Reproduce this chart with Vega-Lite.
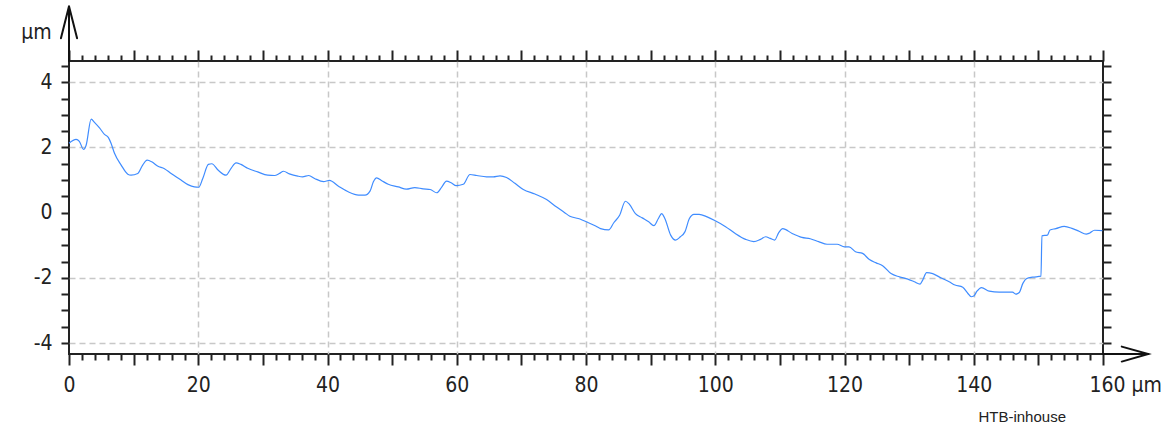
{
  "$schema": "https://vega.github.io/schema/vega-lite/v6.json",
  "width": 1034,
  "height": 293,
  "autosize": {"type": "none"},
  "padding": {"left": 69, "top": 61, "right": 70, "bottom": 72},
  "background": "white",
  "config": {
    "view": {"stroke": "#222222", "strokeWidth": 2},
    "font": "Liberation Sans Narrow, DejaVu Sans Condensed, sans-serif"
  },
  "datasets": {
    "profile": [
      {"x": 0, "y": 2.13}, {"x": 1.1, "y": 2.25}, {"x": 1.6, "y": 2.19}, {"x": 2.25, "y": 1.94}, {"x": 2.65, "y": 2.07},
      {"x": 3.43, "y": 2.87}, {"x": 3.94, "y": 2.77}, {"x": 4.72, "y": 2.6}, {"x": 5.49, "y": 2.4}, {"x": 6.1, "y": 2.3},
      {"x": 6.52, "y": 2.12}, {"x": 7.04, "y": 1.82}, {"x": 8.07, "y": 1.46}, {"x": 9.1, "y": 1.18}, {"x": 9.6, "y": 1.15},
      {"x": 10.64, "y": 1.2}, {"x": 11.4, "y": 1.46}, {"x": 12.09, "y": 1.61}, {"x": 12.8, "y": 1.56}, {"x": 13.7, "y": 1.43},
      {"x": 14.77, "y": 1.35}, {"x": 15.8, "y": 1.2}, {"x": 17.1, "y": 1.03}, {"x": 18.4, "y": 0.86}, {"x": 19.4, "y": 0.79},
      {"x": 20.08, "y": 0.78}, {"x": 20.7, "y": 1.05}, {"x": 21.57, "y": 1.48}, {"x": 22.1, "y": 1.5}, {"x": 23.1, "y": 1.3},
      {"x": 24.3, "y": 1.15}, {"x": 25.08, "y": 1.36}, {"x": 25.85, "y": 1.53}, {"x": 26.6, "y": 1.48}, {"x": 27.65, "y": 1.36},
      {"x": 29.2, "y": 1.25}, {"x": 30.75, "y": 1.15}, {"x": 31.8, "y": 1.14}, {"x": 32.55, "y": 1.2}, {"x": 33.2, "y": 1.27},
      {"x": 34.1, "y": 1.19}, {"x": 35.4, "y": 1.12}, {"x": 36.15, "y": 1.1}, {"x": 37.1, "y": 1.14}, {"x": 38.0, "y": 1.05},
      {"x": 39.4, "y": 0.95}, {"x": 40.3, "y": 0.99}, {"x": 41.7, "y": 0.81}, {"x": 43.2, "y": 0.64}, {"x": 44.8, "y": 0.54},
      {"x": 45.8, "y": 0.54}, {"x": 46.6, "y": 0.67}, {"x": 47.1, "y": 0.95}, {"x": 47.6, "y": 1.07}, {"x": 48.4, "y": 0.98},
      {"x": 49.4, "y": 0.87}, {"x": 50.96, "y": 0.79}, {"x": 52.2, "y": 0.72}, {"x": 53.5, "y": 0.77}, {"x": 54.8, "y": 0.73},
      {"x": 55.9, "y": 0.71}, {"x": 56.9, "y": 0.61}, {"x": 57.7, "y": 0.79}, {"x": 58.4, "y": 0.97}, {"x": 59.2, "y": 0.91},
      {"x": 59.9, "y": 0.83}, {"x": 61.0, "y": 0.87}, {"x": 62.05, "y": 1.17}, {"x": 63.1, "y": 1.14}, {"x": 64.6, "y": 1.1},
      {"x": 65.65, "y": 1.1}, {"x": 66.7, "y": 1.13}, {"x": 67.7, "y": 1.08}, {"x": 69.0, "y": 0.9}, {"x": 70.3, "y": 0.71},
      {"x": 72.1, "y": 0.57}, {"x": 73.9, "y": 0.4}, {"x": 75.4, "y": 0.18}, {"x": 76.7, "y": 0.0}, {"x": 77.5, "y": -0.11},
      {"x": 78.8, "y": -0.18}, {"x": 80.3, "y": -0.3}, {"x": 81.5, "y": -0.41}, {"x": 82.25, "y": -0.49}, {"x": 83.5, "y": -0.53},
      {"x": 84.3, "y": -0.31}, {"x": 85.2, "y": -0.08}, {"x": 86.1, "y": 0.35}, {"x": 86.7, "y": 0.26}, {"x": 87.65, "y": -0.03},
      {"x": 88.7, "y": -0.16}, {"x": 89.7, "y": -0.28}, {"x": 90.5, "y": -0.4}, {"x": 91.2, "y": -0.18}, {"x": 91.7, "y": -0.03},
      {"x": 92.2, "y": -0.18}, {"x": 93.1, "y": -0.69}, {"x": 93.85, "y": -0.84}, {"x": 94.6, "y": -0.74}, {"x": 95.3, "y": -0.59},
      {"x": 96.0, "y": -0.18}, {"x": 96.7, "y": -0.05}, {"x": 97.5, "y": -0.05}, {"x": 98.75, "y": -0.13}, {"x": 100.0, "y": -0.25},
      {"x": 101.6, "y": -0.43}, {"x": 103.1, "y": -0.64}, {"x": 104.7, "y": -0.82}, {"x": 105.97, "y": -0.89}, {"x": 107.0, "y": -0.82},
      {"x": 107.8, "y": -0.74}, {"x": 108.5, "y": -0.79}, {"x": 109.2, "y": -0.84}, {"x": 109.8, "y": -0.62}, {"x": 110.45, "y": -0.49},
      {"x": 111.9, "y": -0.64}, {"x": 113.4, "y": -0.76}, {"x": 114.7, "y": -0.8}, {"x": 116.0, "y": -0.89}, {"x": 117.3, "y": -0.97},
      {"x": 118.85, "y": -0.97}, {"x": 120.0, "y": -1.05}, {"x": 120.7, "y": -1.05}, {"x": 121.7, "y": -1.2}, {"x": 122.8, "y": -1.25},
      {"x": 123.85, "y": -1.44}, {"x": 124.9, "y": -1.54}, {"x": 125.9, "y": -1.63}, {"x": 127.2, "y": -1.87}, {"x": 128.5, "y": -1.97},
      {"x": 129.8, "y": -2.04}, {"x": 130.8, "y": -2.12}, {"x": 131.7, "y": -2.19}, {"x": 132.1, "y": -2.07}, {"x": 132.7, "y": -1.84},
      {"x": 133.65, "y": -1.87}, {"x": 134.9, "y": -2.0}, {"x": 136.2, "y": -2.12}, {"x": 137.1, "y": -2.22}, {"x": 138.3, "y": -2.29},
      {"x": 139.1, "y": -2.48}, {"x": 139.6, "y": -2.58}, {"x": 140.0, "y": -2.56}, {"x": 140.5, "y": -2.41}, {"x": 141.2, "y": -2.3},
      {"x": 142.4, "y": -2.41}, {"x": 143.95, "y": -2.44}, {"x": 146.0, "y": -2.44}, {"x": 146.5, "y": -2.5}, {"x": 147.05, "y": -2.45},
      {"x": 147.6, "y": -2.17}, {"x": 148.2, "y": -2.02}, {"x": 149.1, "y": -1.98}, {"x": 150.4, "y": -1.95}, {"x": 150.55, "y": -0.71},
      {"x": 151.4, "y": -0.69}, {"x": 151.8, "y": -0.53}, {"x": 152.7, "y": -0.49}, {"x": 154.0, "y": -0.42}, {"x": 155.3, "y": -0.49},
      {"x": 156.3, "y": -0.57}, {"x": 157.4, "y": -0.66}, {"x": 157.9, "y": -0.63}, {"x": 158.7, "y": -0.54}, {"x": 159.9, "y": -0.55}
    ],
    "arrows": [
      {"g": "yshaft", "o": 1, "x": 0, "y": 4.65},
      {"g": "yshaft", "o": 2, "x": 0, "y": 6.33},
      {"g": "yhead", "o": 1, "x": -1.25, "y": 5.35},
      {"g": "yhead", "o": 2, "x": 0, "y": 6.33},
      {"g": "yhead", "o": 3, "x": 1.25, "y": 5.35},
      {"g": "xshaft", "o": 1, "x": 160, "y": -4.337},
      {"g": "xshaft", "o": 2, "x": 167, "y": -4.337},
      {"g": "xhead", "o": 1, "x": 162.9, "y": -4.11},
      {"g": "xhead", "o": 2, "x": 167, "y": -4.337},
      {"g": "xhead", "o": 3, "x": 162.9, "y": -4.57}
    ],
    "labels": [
      {"t": "µm", "x": -5.03, "y": 5.33, "kind": "unit"},
      {"t": "HTB-inhouse", "x": 147.5, "y": -6.41, "kind": "credit"}
    ]
  },
  "layer": [
    {
      "data": {"name": "profile"},
      "mark": {"type": "line", "color": "#3f8cff", "strokeWidth": 1.2, "interpolate": "monotone"},
      "encoding": {
        "x": {
          "field": "x", "type": "quantitative",
          "scale": {"domain": [0, 160], "nice": false, "zero": false},
          "axis": {
            "orient": "bottom", "title": null, "domain": false,
            "values": [0,2,4,6,8,10,12,14,16,18,20,22,24,26,28,30,32,34,36,38,40,42,44,46,48,50,52,54,56,58,60,62,64,66,68,70,72,74,76,78,80,82,84,86,88,90,92,94,96,98,100,102,104,106,108,110,112,114,116,118,120,122,124,126,128,130,132,134,136,138,140,142,144,146,148,150,152,154,156,158,160],
            "labelExpr": "datum.value % 20 === 0 ? (datum.value === 160 ? '160 µm' : '' + datum.value) : ''",
            "labelAlign": {"condition": {"test": "datum.value === 160", "value": "left"}, "value": "center"},
            "labelOffset": {"condition": {"test": "datum.value === 160", "value": -14}, "value": 0},
            "labelOverlap": false, "labelFlush": false, "labelBound": false,
            "labelFont": "Liberation Sans Narrow, DejaVu Sans Condensed, sans-serif",
            "labelFontSize": 21, "labelColor": "#222222", "labelPadding": 9,
            "tickColor": "#222222", "tickWidth": 2,
            "tickSize": {"condition": {"test": "datum.value % 10 === 0", "value": 11}, "value": 6},
            "grid": true, "gridColor": "#c8c8c8", "gridDash": [6, 4], "gridWidth": 1.5,
            "gridOpacity": {"condition": {"test": "datum.value % 20 === 0 && datum.value > 0 && datum.value < 160", "value": 1}, "value": 0}
          }
        },
        "y": {
          "field": "y", "type": "quantitative",
          "scale": {"domain": [-4.337, 4.653], "nice": false, "zero": false},
          "axis": {
            "orient": "left", "title": null, "domain": false,
            "values": [-4,-3.5,-3,-2.5,-2,-1.5,-1,-0.5,0,0.5,1,1.5,2,2.5,3,3.5,4,4.5],
            "labelExpr": "datum.value % 2 === 0 ? '' + datum.value : ''",
            "labelOverlap": false, "labelFlush": false, "labelBound": false,
            "labelFont": "Liberation Sans Narrow, DejaVu Sans Condensed, sans-serif",
            "labelFontSize": 21, "labelColor": "#222222", "labelPadding": 9,
            "tickColor": "#222222", "tickWidth": 2, "tickSize": 8,
            "grid": true, "gridColor": "#c8c8c8", "gridDash": [6, 4], "gridWidth": 1.5,
            "gridOpacity": {"condition": {"test": "datum.value !== 0 && datum.value % 2 === 0", "value": 1}, "value": 0}
          }
        }
      }
    },
    {
      "mark": {"type": "rule", "color": "#111111", "strokeWidth": 2},
      "encoding": {"y": {"datum": 0, "type": "quantitative", "axis": null}}
    },
    {
      "data": {"name": "arrows"},
      "mark": {"type": "line", "color": "#111111", "strokeWidth": 2, "clip": false, "strokeCap": "round", "strokeJoin": "miter"},
      "encoding": {
        "x": {
          "field": "x", "type": "quantitative",
          "scale": {"domain": [0, 160], "nice": false, "zero": false},
          "axis": {
            "orient": "top", "title": null, "domain": false, "labels": false, "grid": false,
            "values": [0,2,4,6,8,10,12,14,16,18,20,22,24,26,28,30,32,34,36,38,40,42,44,46,48,50,52,54,56,58,60,62,64,66,68,70,72,74,76,78,80,82,84,86,88,90,92,94,96,98,100,102,104,106,108,110,112,114,116,118,120,122,124,126,128,130,132,134,136,138,140,142,144,146,148,150,152,154,156,158,160],
            "tickColor": "#222222", "tickWidth": 2,
            "tickSize": {"condition": {"test": "datum.value % 10 === 0", "value": 11}, "value": 6}
          }
        },
        "y": {
          "field": "y", "type": "quantitative",
          "scale": {"domain": [-4.337, 4.653], "nice": false, "zero": false},
          "axis": {
            "orient": "right", "title": null, "domain": false, "labels": false, "grid": false,
            "values": [-4,-3.5,-3,-2.5,-2,-1.5,-1,-0.5,0,0.5,1,1.5,2,2.5,3,3.5,4,4.5],
            "tickColor": "#222222", "tickWidth": 2, "tickSize": 8
          }
        },
        "detail": {"field": "g"},
        "order": {"field": "o", "type": "quantitative"}
      }
    },
    {
      "data": {"name": "labels"},
      "transform": [{"filter": "datum.kind === 'unit'"}],
      "mark": {"type": "text", "clip": false, "align": "center", "baseline": "alphabetic", "fontSize": 21, "font": "Liberation Sans Narrow, DejaVu Sans Condensed, sans-serif", "color": "#222222"},
      "encoding": {
        "x": {"field": "x", "type": "quantitative", "axis": null},
        "y": {"field": "y", "type": "quantitative", "axis": null},
        "text": {"field": "t"}
      }
    },
    {
      "data": {"name": "labels"},
      "transform": [{"filter": "datum.kind === 'credit'"}],
      "mark": {"type": "text", "clip": false, "align": "center", "baseline": "alphabetic", "fontSize": 15, "font": "Liberation Sans, Arial, sans-serif", "color": "#222222"},
      "encoding": {
        "x": {"field": "x", "type": "quantitative", "axis": null},
        "y": {"field": "y", "type": "quantitative", "axis": null},
        "text": {"field": "t"}
      }
    }
  ]
}
